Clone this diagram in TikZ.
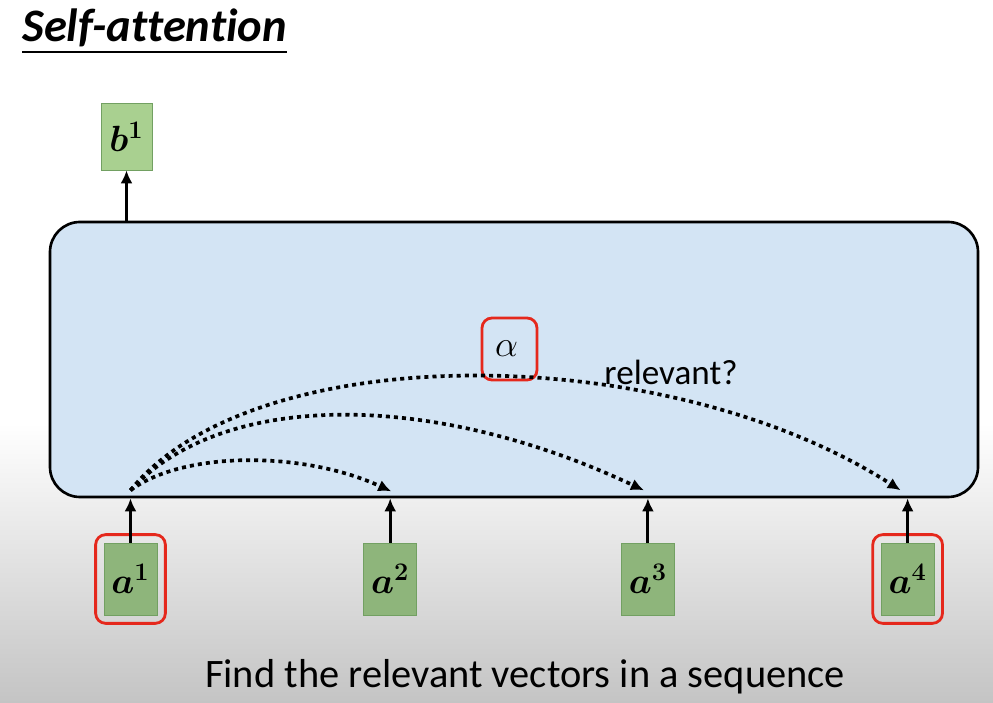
\documentclass[tikz,border=0pt]{standalone}
\usepackage[no-math]{fontspec}
\setmainfont{Carlito}[Ligatures=NoCommon]
\usepackage{bm}
\usetikzlibrary{positioning, arrows.meta, calc, fit}
\definecolor{panelfill}{HTML}{D3E4F4}
\definecolor{vecfill}{HTML}{8EB57B}
\definecolor{vecstroke}{HTML}{72A062}
\definecolor{outfill}{HTML}{A9D090}
\definecolor{hilite}{HTML}{E5281C}
\definecolor{floor}{HTML}{C4C4C4}

\begin{document}
\begin{tikzpicture}[
  >={Latex[length=2.6mm, width=2.4mm]},
  vec/.style={
    draw=vecstroke, line width=0.4pt, fill=vecfill,
    minimum width=10.6mm, minimum height=14.4mm, inner sep=0pt,
    font=\fontsize{19.5}{23}\selectfont
  },
  outvec/.style={vec, fill=outfill, minimum width=10.2mm, minimum height=13.4mm},
  panel/.style={
    draw=black, line width=1.5pt, fill=panelfill,
    rounded corners=6mm, minimum width=185.6mm, minimum height=55mm
  },
  highlight/.style={draw=hilite, line width=1.6pt, rounded corners=2mm, inner sep=1.6mm},
  uparrow/.style={->, line width=1.7pt},
  guess/.style={->, line width=2.1pt, dash pattern=on 2.3pt off 2.3pt}
]
\useasboundingbox (0,0) rectangle (19.86,14.06);

% Background
\fill[white] (0,0) rectangle (19.86,14.06);
\shade[top color=white, bottom color=floor] (0,0) rectangle (19.86,5.6);

% Title
\node[anchor=base west, inner sep=0pt, font=\fontsize{26.5}{31}\selectfont\bfseries\itshape] (title) at (0.44,13.22) {Self-attention};
\draw[line width=0.8pt] ([yshift=-0.2cm]title.base west) -- ([yshift=-0.2cm]title.base east);

% Self-attention layer
\node[panel] (layer) at (10.28,6.87) {};

% Input vectors
\node[vec] (a1) at (2.61,2.48) {$\bm{a}^{\bm{1}}$};
\node[vec, right=4.12cm of a1] (a2) {$\bm{a}^{\bm{2}}$};
\node[vec, right=4.08cm of a2] (a3) {$\bm{a}^{\bm{3}}$};
\node[vec, right=4.12cm of a3] (a4) {$\bm{a}^{\bm{4}}$};

% Output vector
\node[outvec] (b1) at (2.53,11.33) {$\bm{b}^{\bm{1}}$};

% Highlights
\node[highlight, fit=(a1)] (sel1) {};
\node[highlight, fit=(a4)] (sel4) {};
\node[highlight, minimum width=11mm, minimum height=12.4mm, inner sep=0pt,
      font=\fontsize{20}{24}\selectfont] (alpha) at (10.19,7.08) {$\alpha$\,};

\node[font=\fontsize{20}{24}\selectfont] (rel) at (13.42,6.62) {relevant?};

% Arrows into and out of the layer
\draw[uparrow] (a1.north) -- (a1 |- layer.south);
\draw[uparrow] (a2.north) -- (a2 |- layer.south);
\draw[uparrow] (a3.north) -- (a3 |- layer.south);
\draw[uparrow] (a4.north) -- (a4 |- layer.south);
\draw[uparrow] (b1 |- layer.north) -- (b1.south);

% Attention queries
\coordinate (src) at ([yshift=0.16cm] a1 |- layer.south);
\coordinate (t2) at ([xshift=0.02cm, yshift=0.14cm] a2 |- layer.south);
\coordinate (t3) at ([xshift=-0.08cm, yshift=0.16cm] a3 |- layer.south);
\coordinate (t4) at ([xshift=-0.14cm, yshift=0.16cm] a4 |- layer.south);
\draw[guess] (src) .. controls +(1.04,0.78) and +(-1.78,0.82) .. (t2);
\draw[guess] (src) .. controls +(1.84,2.0) and +(-4.24,2.0) .. (t3);
\draw[guess] (src) .. controls +(2.44,3.04) and +(-4.74,3.04) .. (t4);

% Caption
\node[font=\fontsize{23}{27}\selectfont] (caption) at (10.5,0.52) {Find the relevant vectors in a sequence};

\end{tikzpicture}
\end{document}
